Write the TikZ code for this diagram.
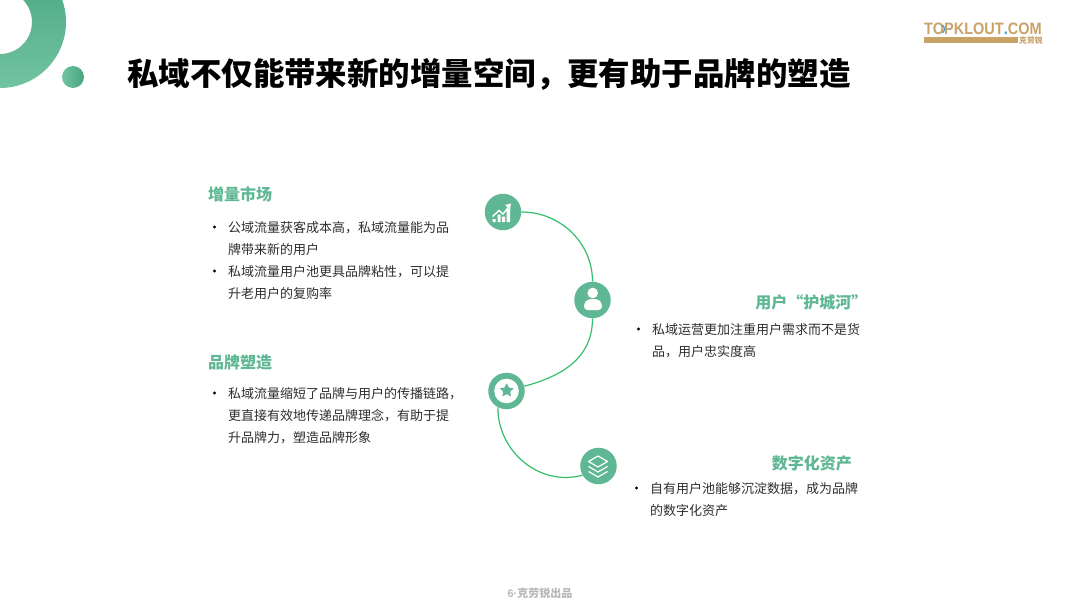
\documentclass[tikz,border=0pt]{standalone}
\usepackage{fontspec}
\usetikzlibrary{shapes.geometric}
\setmainfont{Noto Sans CJK SC}
\setsansfont{Liberation Sans}
\definecolor{leaf}{HTML}{5FB795}
\definecolor{leafdark}{HTML}{46A57E}
\definecolor{leaflight}{HTML}{72C4A1}
\definecolor{arcgreen}{HTML}{35BE6C}
\definecolor{logotan}{HTML}{C9A266}
\definecolor{logoblue}{HTML}{3E9BD6}
\begin{document}
\begin{tikzpicture}[x=1pt,y=-1pt]
		\tikzset{
			iconbox/.style ={
				circle, %round badge
				minimum width =36.5pt, %badge size
				inner sep=0pt,
				fill=leaf
			},
			heading/.style ={
				inner sep=0pt,
				text=leaf,
				font=\fontsize{16}{20}\selectfont\bfseries
			},
			body/.style ={
				anchor=north west,
				inner sep=0pt,
				align=left,
				text=black!82,
				font=\fontsize{13}{22}\selectfont
			},
			bulletdot/.style ={
				circle,
				minimum width =3.4pt,
				inner sep=0pt,
				fill=black
			},
			link/.style ={
				draw=arcgreen,
				line width=1.2pt
			}
		}
		\useasboundingbox (0,0) rectangle (1080,608);
		\fill[white] (0,0) rectangle (1080,608);
		% corner ring and dot
		\shade[even odd rule,top color=leafdark,bottom color=leaflight] (0,22) circle (66pt) (0,22) circle (32pt);
		\shade[left color=leaflight,right color=leafdark] (73,77) circle (11pt);
		% title
		\node[inner sep=0pt,anchor=west,font=\fontsize{31.45}{36}\selectfont\bfseries] (title) at (127,74) {私域不仅能带来新的增量空间，更有助于品牌的塑造};
		% logo
		\node[inner sep=0pt,anchor=west,text=logotan,font=\fontsize{16.5}{18}\selectfont\sffamily\bfseries] (logoname) at (924,29) {\scalebox{0.88}[1]{TOPKLOUT\textcolor{logoblue}{.}COM}};
		\draw[logoblue,line width=1.2pt] (942.5,25) .. controls (945,27) and (945,31) .. (942.5,33);
		\node[fill=logotan,minimum width=94pt,minimum height=6pt,inner sep=0pt] (logoband) at (971,40.3) {};
		\node[inner sep=0pt,anchor=west,text=logotan,font=\fontsize{7.8}{9}\selectfont\bfseries] (logocn) at (1019,40.3) {克劳锐};
		% badges
		\node[iconbox] (trend) at (503,212) {};
		\node[iconbox] (user) at (592.5,300) {};
		\node[iconbox] (star) at (506.5,391) {};
		\node[iconbox] (layers) at (598.5,466) {};
		% links
		\draw[link] (trend.east) to[out=0,in=90] (user.north);
		\draw[link] (user.south) to[out=-90,in=15,looseness=1.05] (star.15);
		\draw[link] (star.-118) to[out=-90,in=195,looseness=1.05] (layers.-150);
		% trend icon
		\fill[white] (492.5,222) rectangle (495.5,219) (497.5,222) rectangle (500.5,214.5) (502,222) rectangle (505,216.5) (506.5,222) rectangle (510,209);
		\draw[white,line width=1.4pt] (492.5,216.5) -- (499,210.5) -- (503,214) -- (509,206.5);
		\fill[white] (511,203.5) -- (505,205) -- (510,209.5) -- cycle;
		% user icon
		\fill[white] (592.7,293) circle (5.3pt);
		\fill[white,rounded corners=3.5pt] (584,310) -- (584,303) -- (588,299) -- (598,299) -- (602,303) -- (602,310) -- cycle;
		% star icon
		\fill[white] (506.5,391) circle (12.3pt);
		\node[star,star points=5,star point ratio=2.1,fill=leaf,minimum size=15pt,inner sep=0pt,rounded corners=0.6pt] (staricon) at (506.7,390.5) {};
		% layers icon
		\draw[white,line width=1.2pt,line join=round] (598,456) -- (607.5,461.5) -- (598,467) -- (588.5,461.5) -- cycle;
		\draw[white,line width=1.2pt,line join=round] (588.5,466.5) -- (598,472) -- (607.5,466.5);
		\draw[white,line width=1.2pt,line join=round] (588.5,471.5) -- (598,477) -- (607.5,471.5);
		% left column
		\node[heading,anchor=west] (market) at (208,194.5) {增量市场};
		\node[bulletdot] (d1) at (214.5,227) {};
		\node[body] (t1) at (228,221) {公域流量获客成本高，私域流量能为品\\牌带来新的用户};
		\node[bulletdot] (d2) at (214.5,271) {};
		\node[body] (t2) at (228,265) {私域流量用户池更具品牌粘性，可以提\\升老用户的复购率};
		\node[heading,anchor=west] (brand) at (208,362) {品牌塑造};
		\node[bulletdot] (d3) at (214.5,393) {};
		\node[body] (t3) at (228,387) {私域流量缩短了品牌与用户的传播链路，\\更直接有效地传递品牌理念，有助于提\\升品牌力，塑造品牌形象};
		% right column
		\node[heading,anchor=east] (moat) at (867.5,302) {用户“护城河”};
		\node[bulletdot] (d4) at (638.5,329) {};
		\node[body] (t4) at (652,323) {私域运营更加注重用户需求而不是货\\品，用户忠实度高};
		\node[heading,anchor=east] (asset) at (852,463.5) {数字化资产};
		\node[bulletdot] (d5) at (636.5,488) {};
		\node[body] (t5) at (650,482) {自有用户池能够沉淀数据，成为品牌\\的数字化资产};
		% footer
		\node[inner sep=0pt,text=black!28,font=\fontsize{11}{13}\selectfont\bfseries] (footer) at (540,593.5) {{\sffamily 6·}克劳锐出品};
	\end{tikzpicture}
\end{document}
